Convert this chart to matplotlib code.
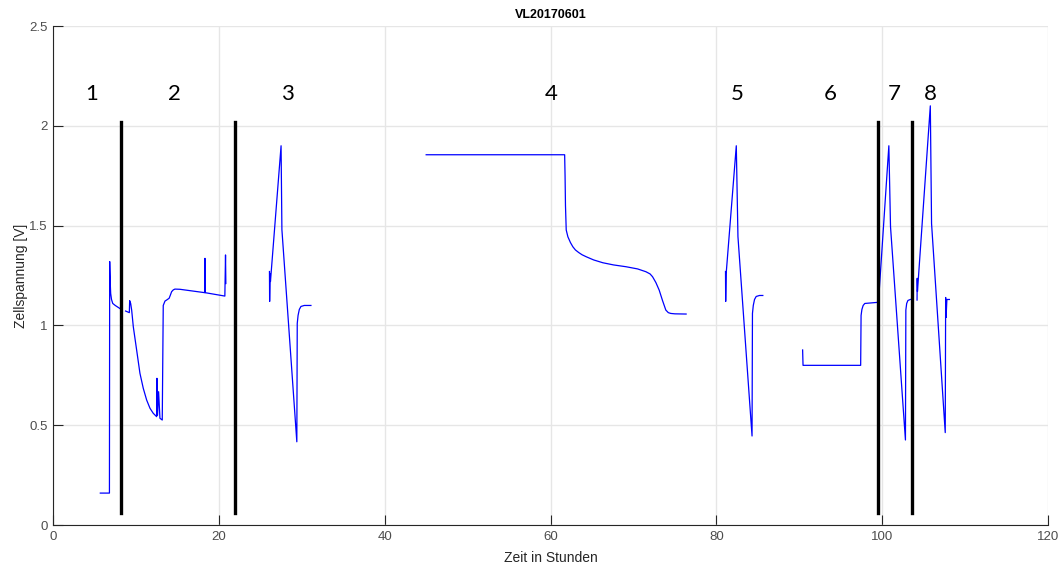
import numpy as np
import matplotlib
matplotlib.use("Agg")
import matplotlib.pyplot as plt

# cell voltage segments (time in hours, voltage in V)
seg1_t = [5.7, 6.8, 6.83, 6.86, 6.9, 6.95, 7.05, 7.2, 7.5, 8.05]
seg1_u = [0.16, 0.16, 1.32, 1.27, 1.21, 1.16, 1.13, 1.11, 1.10, 1.085]

seg2_t = [8.75, 9.2, 9.24, 9.36, 9.48, 9.68, 10.08, 10.48, 10.88, 11.29, 11.69, 12.08, 12.49,
          12.53, 12.6, 12.73, 12.89, 13.17, 13.29, 13.5, 13.69, 14.0, 14.15, 14.3, 14.5, 14.7,
          15.3, 18.31, 18.32, 18.35, 20.72, 20.8, 20.84]
seg2_u = [1.072, 1.064, 1.124, 1.11, 1.077, 0.993, 0.877, 0.76, 0.685, 0.626, 0.585, 0.56, 0.543,
          0.735, 0.55, 0.668, 0.535, 0.526, 1.10, 1.122, 1.127, 1.136, 1.152, 1.169, 1.178, 1.182,
          1.181, 1.164, 1.336, 1.164, 1.147, 1.353, 1.21]

seg3_t = [26.1, 26.12, 26.18, 26.22, 27.5, 27.6, 29.4, 29.45, 29.55, 29.7, 29.9, 30.3, 31.1]
seg3_u = [1.27, 1.12, 1.26, 1.22, 1.90, 1.48, 0.417, 1.01, 1.05, 1.08, 1.095, 1.10, 1.10]

seg4_t = [45.0, 61.7, 61.75, 61.8, 61.89, 62.09, 62.4, 62.69, 63.0, 63.4, 63.8, 64.3, 65.2,
          66.3, 67.6, 69.1, 70.5, 71.5, 72.0, 72.3, 72.7, 73.1, 73.5, 73.9, 74.2, 74.5, 75.0,
          76.35]
seg4_u = [1.855, 1.855, 1.75, 1.60, 1.478, 1.444, 1.415, 1.394, 1.378, 1.365, 1.354, 1.344,
          1.328, 1.314, 1.303, 1.294, 1.283, 1.269, 1.258, 1.244, 1.215, 1.177, 1.125, 1.077,
          1.064, 1.06, 1.058, 1.057]

seg5_t = [81.1, 81.12, 81.18, 82.4, 82.6, 84.3, 84.35, 84.45, 84.6, 84.8, 85.2, 85.6]
seg5_u = [1.27, 1.12, 1.26, 1.90, 1.445, 0.446, 1.06, 1.10, 1.13, 1.145, 1.15, 1.15]

seg6_t = [90.4, 90.45, 97.4, 97.45, 97.55, 97.7, 97.9, 99.3]
seg6_u = [0.877, 0.80, 0.80, 1.05, 1.08, 1.10, 1.11, 1.115]

seg7_t = [99.6, 99.62, 99.65, 100.8, 101.0, 102.8, 102.85, 102.95, 103.1, 103.4]
seg7_u = [1.12, 1.23, 1.18, 1.90, 1.495, 0.426, 1.077, 1.11, 1.125, 1.13]

seg8_t = [104.2, 104.22, 104.25, 105.8, 105.95, 107.6, 107.65, 107.7, 107.8, 108.1]
seg8_u = [1.127, 1.236, 1.17, 2.10, 1.51, 0.463, 1.14, 1.04, 1.13, 1.13]

segments = [(seg1_t, seg1_u), (seg2_t, seg2_u), (seg3_t, seg3_u), (seg4_t, seg4_u),
            (seg5_t, seg5_u), (seg6_t, seg6_u), (seg7_t, seg7_u), (seg8_t, seg8_u)]

# phase separators and phase labels
sep_x = [8.25, 22.0, 99.45, 103.65]
sep_y = [0.06, 2.02]
phase_labels = ["1", "2", "3", "4", "5", "6", "7", "8"]
phase_x = [4.7, 14.6, 28.3, 60.1, 82.5, 93.7, 101.4, 105.8]
phase_y = 2.16

fig = plt.figure(figsize=(10.61, 5.64), dpi=100)
ax = fig.add_axes([0.05, 0.0691, 0.9378, 0.8848])

for t, u in segments:
    ax.plot(t, u, color="#0000ff", lw=0.9)

for xs in sep_x:
    ax.plot([xs, xs], sep_y, color="black", lw=2.4)

for lab, xp in zip(phase_labels, phase_x):
    ax.text(xp, phase_y, lab, ha="center", va="center", fontsize=16, family="Lato")

ax.set_xlim(0, 120)
ax.set_ylim(0, 2.5)
ax.set_xticks(np.arange(0, 121, 20))
ax.set_yticks([0, 0.5, 1, 1.5, 2, 2.5])
ax.set_yticklabels(["0", "0.5", "1", "1.5", "2", "2.5"])
ax.grid(True, color="#e6e6e6", lw=1)
ax.set_axisbelow(True)
for s in ["top", "right"]:
    ax.spines[s].set_visible(False)
for s in ["left", "bottom"]:
    ax.spines[s].set_color("#262626")
    ax.spines[s].set_linewidth(0.8)
ax.tick_params(direction="in", length=7, width=0.8, colors="#262626",
               labelsize=9.5, labelcolor="#4d4d4d", pad=4)
for lab in ax.get_xticklabels() + ax.get_yticklabels():
    lab.set_family("Liberation Sans")

ax.set_xlabel("Zeit in Stunden", fontsize=10, family="Liberation Sans", color="#262626", labelpad=6)
ax.set_ylabel("Zellspannung [V]", fontsize=10, family="Liberation Sans", color="#262626", labelpad=1)
ax.set_title("VL20170601", fontsize=9, fontweight="bold", family="Liberation Sans", pad=6)

fig.savefig("out.png", dpi=100)
